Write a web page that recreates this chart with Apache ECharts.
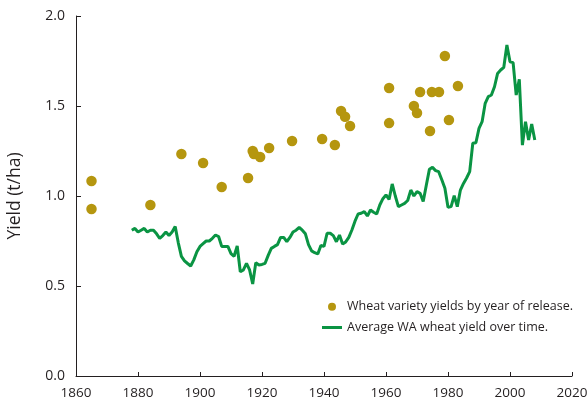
<!DOCTYPE html>
<html>
<head>
<meta charset="utf-8">
<script src="https://cdn.jsdelivr.net/npm/echarts@6/dist/echarts.min.js"></script>
<style>
html,body{margin:0;padding:0;background:#fff;}
#chart{width:587px;height:405px;}
</style>
</head>
<body>
<div id="chart"></div>
<script>
// Wheat variety yields by year of release (year, t/ha)
var varietyYears = [1865, 1865, 1884, 1894, 1901, 1907, 1915.5, 1917, 1917.4, 1919.4, 1922.3, 1929.7, 1939.4, 1943.5, 1945.5, 1946.8, 1948.4, 1961, 1961, 1969, 1970, 1971, 1974.2, 1974.8, 1977.1, 1979, 1980.3, 1983.2];
var varietyYields = [1.083, 0.928, 0.95, 1.233, 1.183, 1.05, 1.10, 1.25, 1.233, 1.217, 1.267, 1.306, 1.317, 1.283, 1.472, 1.44, 1.389, 1.60, 1.405, 1.50, 1.461, 1.578, 1.361, 1.578, 1.578, 1.778, 1.422, 1.611];

// Average WA wheat yield over time, 1878-2008
var avgStartYear = 1878;
var avgYields = [
  0.81, 0.82, 0.80, 0.81, 0.82, 0.80, 0.81, 0.81, 0.79, 0.765, // 1878-1887
  0.78, 0.80, 0.78, 0.80, 0.83, 0.74, 0.665, 0.64, 0.625, 0.611, // 1888-1897
  0.645, 0.69, 0.72, 0.735, 0.75, 0.75, 0.765, 0.783, 0.775, 0.72, // 1898-1907
  0.72, 0.72, 0.68, 0.665, 0.722, 0.579, 0.589, 0.626, 0.589, 0.511, // 1908-1917
  0.63, 0.617, 0.62, 0.626, 0.67, 0.709, 0.72, 0.73, 0.77, 0.77, // 1918-1927
  0.746, 0.77, 0.80, 0.81, 0.825, 0.81, 0.79, 0.73, 0.695, 0.685, // 1928-1937
  0.678, 0.725, 0.72, 0.793, 0.793, 0.78, 0.746, 0.783, 0.733, 0.745, // 1938-1947
  0.77, 0.811, 0.86, 0.90, 0.904, 0.913, 0.889, 0.922, 0.91, 0.90, // 1948-1957
  0.95, 0.985, 1.006, 0.981, 1.067, 1.00, 0.941, 0.95, 0.959, 0.975, // 1958-1967
  1.033, 1.00, 1.024, 1.015, 0.969, 1.06, 1.148, 1.159, 1.141, 1.135, // 1968-1977
  1.09, 1.043, 0.937, 0.941, 1.002, 0.941, 1.033, 1.07, 1.10, 1.135, // 1978-1987
  1.293, 1.296, 1.376, 1.413, 1.515, 1.552, 1.561, 1.607, 1.681, 1.70, // 1988-1997
  1.715, 1.839, 1.746, 1.741, 1.561, 1.648, 1.283, 1.413, 1.311, 1.40, // 1998-2007
  1.311 // 2008
];

var xMin = 1860, xMax = 2020, xStep = 20;
var yMin = 0, yMax = 2, yStep = 0.5;
var seriesNames = ['Wheat variety yields by year of release.', 'Average WA wheat yield over time.'];
var yAxisTitle = 'Yield (t/ha)';

var scatterData = varietyYears.map(function (y, i) { return [y, varietyYields[i]]; });
var lineData = avgYields.map(function (v, i) { return [avgStartYear + i, v]; });

var font = '"Open Sans", "Noto Sans", sans-serif';
var textColor = '#231f20';
var dotColor = '#b5960f';
var lineColor = '#0a9443';

var chart = echarts.init(document.getElementById('chart'), null, {renderer: 'canvas'});
chart.setOption({
  animation: false,
  backgroundColor: '#ffffff',
  grid: {left: 76, right: 15, top: 16, bottom: 29, outerBoundsMode: 'none', containLabel: false},
  legend: {
    orient: 'vertical', left: 320.5, top: 298.7, padding: 0,
    itemWidth: 20, itemHeight: 8, itemGap: 4.8,
    textStyle: {fontFamily: font, fontSize: 12.5, color: textColor, lineHeight: 16},
    data: [
      {name: seriesNames[0], icon: 'circle'},
      {name: seriesNames[1], itemStyle: {color: 'rgba(0,0,0,0)', opacity: 0, borderWidth: 0},
        lineStyle: {color: lineColor, width: 3}}
    ]
  },
  xAxis: {
    type: 'value',
    min: xMin, max: xMax, interval: xStep,
    axisLine: {lineStyle: {color: '#231f20', width: 1}},
    axisTick: {inside: true, length: 4, lineStyle: {color: '#231f20'}},
    axisLabel: {fontFamily: font, fontSize: 13.5, color: textColor, margin: 10,
      formatter: function (v) { return String(v); }},
    splitLine: {show: false}
  },
  yAxis: {
    type: 'value',
    min: yMin, max: yMax, interval: yStep,
    name: yAxisTitle,
    nameLocation: 'middle',
    nameRotate: 90,
    nameGap: 52,
    nameTextStyle: {fontFamily: font, fontSize: 17.5, color: textColor},
    axisLine: {show: true, lineStyle: {color: '#231f20', width: 1}},
    axisTick: {show: true, inside: true, length: 5, lineStyle: {color: '#231f20'}},
    axisLabel: {fontFamily: font, fontSize: 14, color: textColor, margin: 11,
      formatter: function (v) { return v.toFixed(1); }},
    splitLine: {show: false}
  },
  series: [
    {
      name: seriesNames[0],
      type: 'scatter',
      data: scatterData,
      symbol: 'circle',
      symbolSize: 10.5,
      itemStyle: {color: dotColor, opacity: 1},
      z: 3
    },
    {
      name: seriesNames[1],
      type: 'line',
      data: lineData,
      showSymbol: false,
      symbol: 'none',
      lineStyle: {color: lineColor, width: 3},
      itemStyle: {color: lineColor},
      z: 2
    }
  ]
});
</script>
</body>
</html>
